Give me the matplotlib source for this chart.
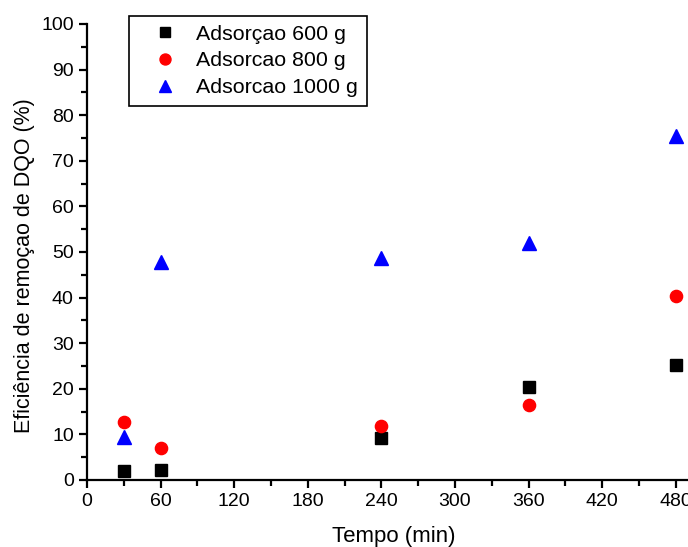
import matplotlib
matplotlib.use("Agg")
import matplotlib.pyplot as plt
from matplotlib.ticker import MultipleLocator

plt.rcParams['font.family'] = ['Liberation Sans', 'DejaVu Sans']

tempo = [30, 60, 240, 360, 480]
ads_600 = [2.0, 2.3, 9.3, 20.4, 25.2]
ads_800 = [12.8, 7.1, 11.9, 16.5, 40.3]
ads_1000 = [9.4, 47.8, 48.7, 52.0, 75.5]
labels = ['Adsorçao 600 g', 'Adsorcao 800 g', 'Adsorcao 1000 g']
xticks = [0, 60, 120, 180, 240, 300, 360, 420, 480]
yticks = [0, 10, 20, 30, 40, 50, 60, 70, 80, 90, 100]

fig = plt.figure(figsize=(6.88, 5.47), dpi=100)
ax = fig.add_axes([87/688, 67/547, 601/688, 456/547])

ax.plot(tempo, ads_600, 's', color='black', ms=8, label=labels[0], clip_on=False)
ax.plot(tempo, ads_800, 'o', color='#ff0000', ms=8.8, label=labels[1], clip_on=False)
ax.plot(tempo, ads_1000, '^', color='#0000ff', ms=9.5, label=labels[2], clip_on=False)

ax.set_xlim(0, 490)
ax.set_ylim(0, 100)
ax.set_xticks(xticks)
ax.set_yticks(yticks)
ax.xaxis.set_minor_locator(MultipleLocator(30))
ax.yaxis.set_minor_locator(MultipleLocator(5))
for s in ['top', 'right']:
    ax.spines[s].set_visible(False)
for s in ['left', 'bottom']:
    ax.spines[s].set_linewidth(1.6)
ax.tick_params(which='major', direction='out', length=6, width=1.6, labelsize=14)
ax.tick_params(which='minor', direction='out', length=4, width=1.6)

ax.set_xlabel('Tempo (min)', fontsize=16)
ax.xaxis.set_label_coords(0.51, -0.1)
ax.set_ylabel('Eficiência de remoçao de DQO (%)', fontsize=15.5)
ax.yaxis.set_label_coords(-0.087, 0.47)

leg = ax.legend(loc='upper left', bbox_to_anchor=(42/601, 1.0 + 8/456), fontsize=15.4,
                frameon=True, fancybox=False, edgecolor='black', framealpha=1,
                borderaxespad=0, handletextpad=0.2, borderpad=0.4,
                labelspacing=0.37, handlelength=2.55, markerscale=0.9)
leg.get_frame().set_linewidth(1.2)

fig.savefig('out.png', dpi=100)
